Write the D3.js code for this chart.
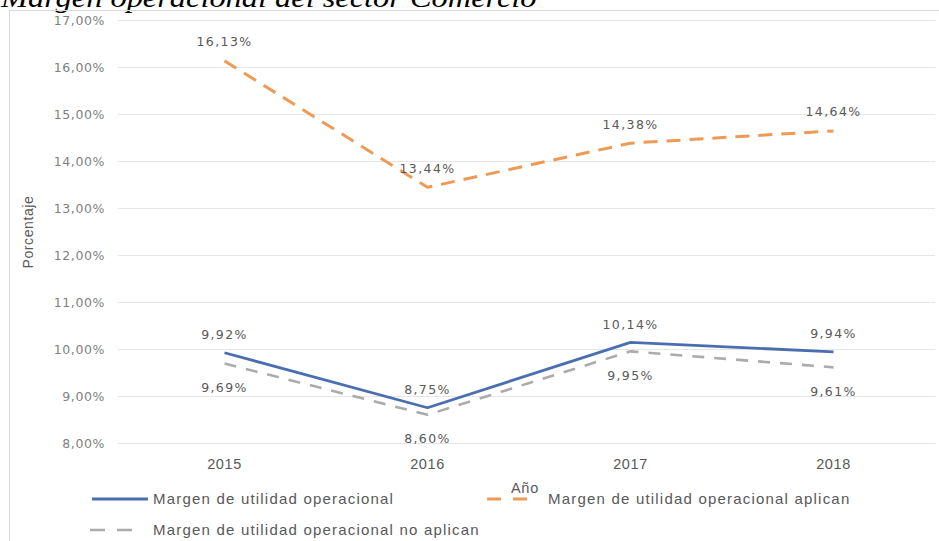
<!DOCTYPE html>
<html>
<head>
<meta charset="utf-8">
<script src="https://cdn.jsdelivr.net/npm/d3@7"></script>
<style>
  html, body { margin: 0; padding: 0; background: #fff; }
  svg { display: block; }
</style>
</head>
<body>
<svg id="chart" width="939" height="541"></svg>
<script>
// Años y series (porcentajes)
const years = ["2015", "2016", "2017", "2018"];
const margenOperacional = [9.92, 8.75, 10.14, 9.94];
const margenAplican = [16.13, 13.44, 14.38, 14.64];
const margenNoAplican = [9.69, 8.60, 9.95, 9.61];
const yTicks = [8, 9, 10, 11, 12, 13, 14, 15, 16, 17];

const fmt = v => v.toFixed(2).replace(".", ",") + "%";

const svg = d3.select("#chart");
const W = 939, H = 541;
const sans = "Liberation Sans, Arial, sans-serif";

// Título (parcialmente recortado por el borde superior)
svg.append("text")
  .attr("transform", "translate(1,7) scale(1.2,1)")
  .attr("font-family", "Liberation Serif, Times New Roman, serif")
  .attr("font-style", "italic")
  .attr("font-size", 27)
  .attr("fill", "#000")
  .text("Margen operacional del sector Comercio");

// Marco del gráfico
svg.append("rect")
  .attr("x", 9.5).attr("y", 10.5)
  .attr("width", W).attr("height", H)
  .attr("fill", "none").attr("stroke", "#d9d9d9").attr("stroke-width", 1);

const plot = { left: 118, right: 935, top: 20, bottom: 443 };

const x = d3.scaleBand().domain(years).range([123, 935]);
const xc = d => x(d) + x.bandwidth() / 2;
const y = d3.scaleLinear().domain([8, 17]).range([plot.bottom, plot.top]);

// Líneas de cuadrícula
svg.append("g").selectAll("line").data(yTicks).join("line")
  .attr("x1", plot.left).attr("x2", plot.right)
  .attr("y1", d => Math.round(y(d)) + 0.5).attr("y2", d => Math.round(y(d)) + 0.5)
  .attr("stroke", "#e6e6e6").attr("stroke-width", 1);

// Eje Y
const yAxis = d3.axisLeft(y).tickValues(yTicks).tickSize(0).tickPadding(0)
  .tickFormat(d => d.toFixed(2).replace(".", ",") + "%");
const gy = svg.append("g").attr("transform", "translate(105,0)").call(yAxis);
gy.select(".domain").remove();
gy.selectAll("text")
  .attr("font-family", "DejaVu Sans, sans-serif")
  .attr("font-size", 12.5)
  .attr("letter-spacing", 0.6)
  .attr("fill", "#7f7f7f");

// Eje X
const xAxis = d3.axisBottom(x).tickSize(0).tickPadding(0);
const gx = svg.append("g").attr("transform", "translate(0,459)").call(xAxis);
gx.select(".domain").remove();
gx.selectAll("text")
  .attr("font-family", sans)
  .attr("font-size", 14.5)
  .attr("letter-spacing", 0.6)
  .attr("fill", "#595959");

// Títulos de ejes
svg.append("text")
  .attr("transform", "translate(33,232) rotate(-90)")
  .attr("text-anchor", "middle")
  .attr("font-family", sans)
  .attr("font-size", 14)
  .attr("letter-spacing", 0.6)
  .attr("fill", "#595959")
  .text("Porcentaje");

svg.append("text")
  .attr("x", 525).attr("y", 488)
  .attr("dy", "0.35em")
  .attr("text-anchor", "middle")
  .attr("font-family", sans)
  .attr("font-size", 14.5)
  .attr("letter-spacing", 0.8)
  .attr("fill", "#595959")
  .text("Año");

const series = [
  { name: "Margen de utilidad operacional", values: margenOperacional,
    color: "#4a6fb0", width: 2.8, dash: null, labelDy: -18 },
  { name: "Margen de utilidad operacional aplican", values: margenAplican,
    color: "#ee9a55", width: 3, dash: "14,9", labelDy: -19 },
  { name: "Margen de utilidad operacional no aplican", values: margenNoAplican,
    color: "#ababab", width: 2.6, dash: "12,10", labelDy: 24 }
];

const line = d3.line().x(d => xc(d.year)).y(d => y(d.v));

series.forEach(s => {
  const pts = years.map((yr, i) => ({ year: yr, v: s.values[i] }));
  svg.append("path")
    .datum(pts)
    .attr("d", line)
    .attr("fill", "none")
    .attr("stroke", s.color)
    .attr("stroke-width", s.width)
    .attr("stroke-dasharray", s.dash)
    .attr("stroke-linejoin", "round");
});

// Etiquetas de datos
series.forEach(s => {
  svg.append("g").selectAll("text")
    .data(years.map((yr, i) => ({ year: yr, v: s.values[i] })))
    .join("text")
    .attr("x", d => xc(d.year))
    .attr("y", d => y(d.v) + s.labelDy)
    .attr("dy", "0.35em")
    .attr("text-anchor", "middle")
    .attr("font-family", "DejaVu Sans, sans-serif")
    .attr("font-size", 12.5)
    .attr("letter-spacing", 1.4)
    .attr("fill", "#595959")
    .text(d => fmt(d.v));
});

// Leyenda
const legend = [
  { s: series[0], x1: 92, x2: 148, ly: 499, tx: 153, dash: null },
  { s: series[1], x1: 487, x2: 527, ly: 499, tx: 548, dash: "14,12" },
  { s: series[2], x1: 90, x2: 132, ly: 530, tx: 153, dash: "15,12" }
];
legend.forEach(l => {
  svg.append("line")
    .attr("x1", l.x1).attr("x2", l.x2)
    .attr("y1", l.ly).attr("y2", l.ly)
    .attr("stroke", l.s.color)
    .attr("stroke-width", l.s.width)
    .attr("stroke-dasharray", l.dash);
  svg.append("text")
    .attr("x", l.tx).attr("y", l.ly)
    .attr("dy", "0.35em")
    .attr("font-family", sans)
    .attr("font-size", 15)
    .attr("letter-spacing", 1.2)
    .attr("fill", "#595959")
    .text(l.s.name);
});
</script>
</body>
</html>
